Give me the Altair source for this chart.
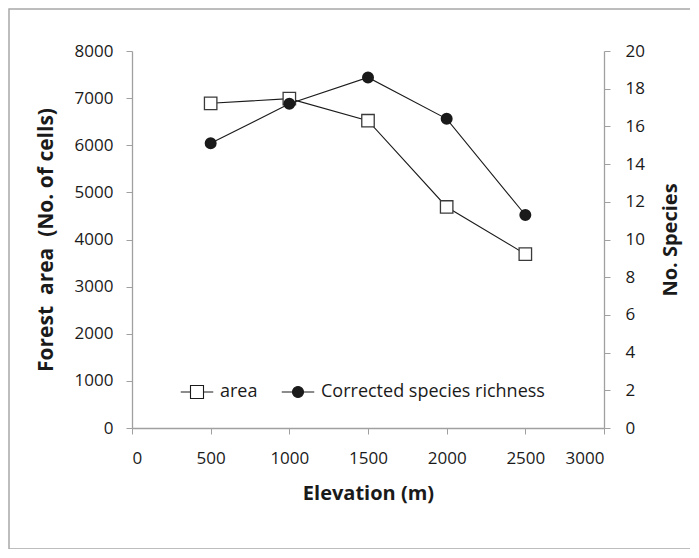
import altair as alt
import pandas as pd

elevation = [500, 1000, 1500, 2000, 2500]
forest_area = [6890, 6990, 6520, 4690, 3690]
species = [15.1, 17.2, 18.6, 16.4, 11.3]
series_names = ["area", "Corrected species richness"]
x_ticks = [0, 500, 1000, 1500, 2000, 2500, 3000]
left_ticks = [0, 1000, 2000, 3000, 4000, 5000, 6000, 7000, 8000]
right_ticks = [0, 2, 4, 6, 8, 10, 12, 14, 16, 18, 20]

df = pd.DataFrame({"elev": elevation, "area": forest_area, "species": species})

FONT = "Open Sans"
AX = "#a0a0a0"
TXT = "#1a1a1a"

sq_path = "M-2.5,0H-1M1,0H2.5M-1,-1H1V1H-1Z"
ci_path = "M-2.5,0H-0.85M0.85,0H2.5M0.85,0A0.85,0.85,0,1,1,-0.85,0A0.85,0.85,0,1,1,0.85,0Z"

x_enc = alt.X("elev:Q", scale=alt.Scale(domain=[0, 3000], nice=False),
              axis=alt.Axis(values=x_ticks, title="Elevation (m)", grid=False,
                            domainColor=AX, tickColor=AX, tickSize=6,
                            labelPadding=16, titlePadding=17, format="d"))

y_left = alt.Y("area:Q", scale=alt.Scale(domain=[0, 8000], nice=False),
               axis=alt.Axis(values=left_ticks, orient="left",
                             title="Forest\u00a0 area\u00a0 (No. of cells)", grid=False,
                             domainColor=AX, tickColor=AX, tickSize=6, titleFontSize=21,
                             labelPadding=13, titlePadding=18, format="d"))

y_right = alt.Y("species:Q", scale=alt.Scale(domain=[0, 20], nice=False),
                axis=alt.Axis(values=right_ticks, orient="right", title="No. Species",
                              grid=False, domainColor=AX, tickColor=AX, tickSize=6,
                              labelPadding=15, titlePadding=16, titleAngle=270,
                              titleBaseline="top", format="d"))

base = alt.Chart(df)

area_line = base.mark_line(color="#1a1a1a", strokeWidth=1.1).encode(x=x_enc, y=y_left)
area_pts = base.mark_point(shape="square", size=155, filled=True, fill="white",
                           stroke="#3a3a3a", strokeWidth=1.3, opacity=1).encode(x=x_enc, y=y_left)

legend_layer = base.transform_filter("false").transform_calculate(
    series="'area'"
).mark_point(opacity=1, filled=True, strokeWidth=1.1).encode(
    x=x_enc, y=y_left,
    shape=alt.Shape("series:N", scale=alt.Scale(domain=series_names, range=[sq_path, ci_path]),
                    legend=alt.Legend(title=None, orient="none", direction="horizontal",
                                      legendX=56, legendY=332, symbolSize=169,
                                      symbolStrokeWidth=1.1,
                                      labelOffset=14, columnPadding=21, labelLimit=400,
                                      labelFont=FONT, labelFontSize=18, labelColor=TXT,
                                      symbolOpacity=1)),
    fill=alt.Fill("series:N", scale=alt.Scale(domain=series_names, range=["white", "#1a1a1a"]),
                  legend=None),
    stroke=alt.Stroke("series:N", scale=alt.Scale(domain=series_names, range=["#1a1a1a", "#1a1a1a"]),
                      legend=None),
)

left = alt.layer(area_line, area_pts, legend_layer)

sp_line = base.mark_line(color="#1a1a1a", strokeWidth=1.1).encode(x=x_enc, y=y_right)
sp_pts = base.mark_point(shape="circle", size=100, filled=True, fill="#1a1a1a",
                         stroke="#1a1a1a", opacity=1).encode(x=x_enc, y=y_right)
right = alt.layer(sp_line, sp_pts)

border = alt.Chart(pd.DataFrame({"k": [0]})).mark_rect(
    fill=None, stroke="#a8a8a8", strokeWidth=1.5
).encode(x=alt.value(-123), x2=alt.value(580), y=alt.value(-42), y2=alt.value(498))

chart = alt.layer(border, left, right).resolve_scale(y="independent").properties(
    width=472, height=377,
    autosize=alt.AutoSizeParams(type="none"),
    padding={"left": 124, "top": 43, "right": 86, "bottom": 121},
    background="white",
).configure_view(stroke=None).configure_axis(
    labelFont=FONT, labelFontSize=17, labelColor=TXT,
    titleFont=FONT, titleFontSize=20, titleFontWeight="bold", titleColor=TXT,
    domainWidth=1.3,
)

chart.save("out.html", embed_options={"renderer": "svg", "actions": False})
